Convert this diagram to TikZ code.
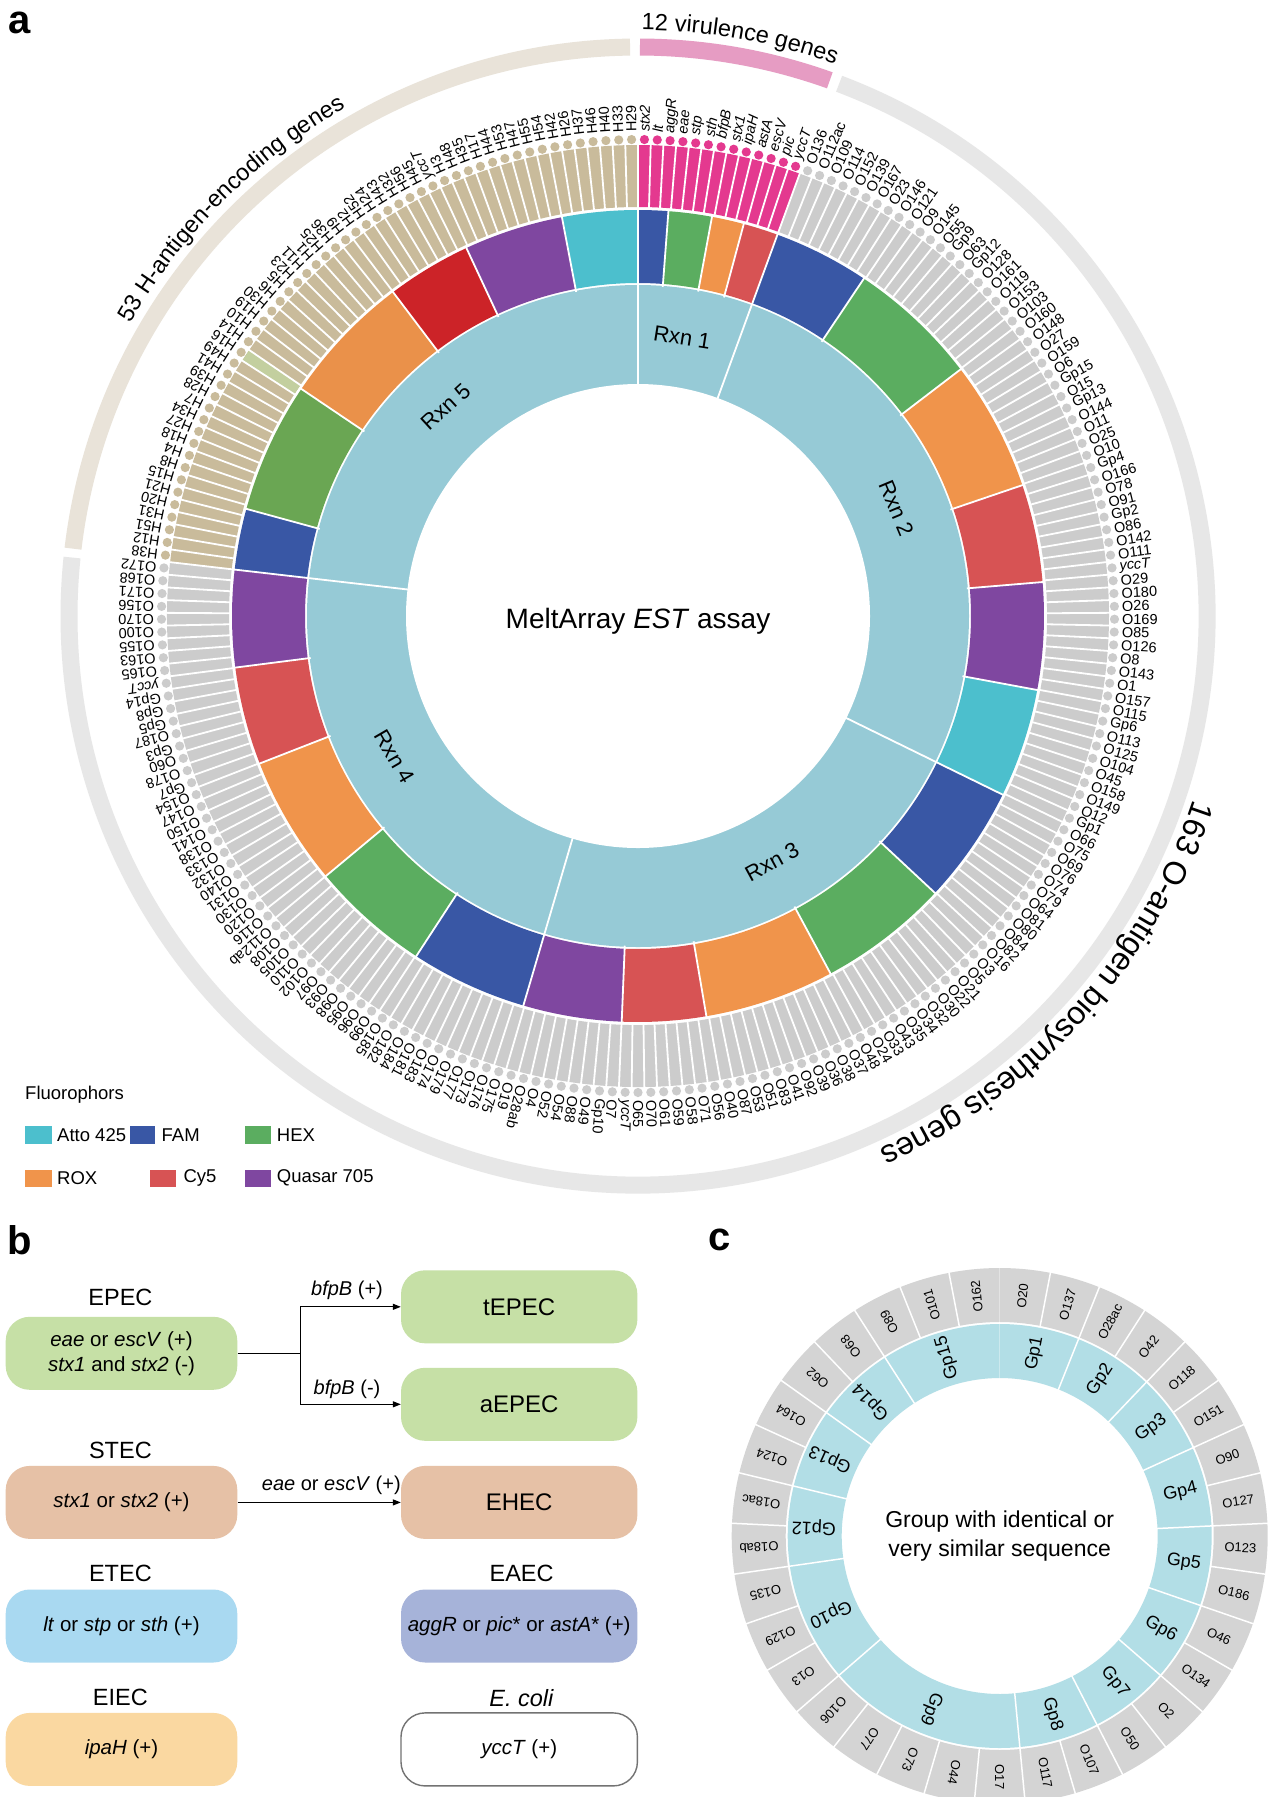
\documentclass[tikz,border=0pt]{standalone}
\usepackage{fontspec}
\setmainfont{Liberation Sans}
\usetikzlibrary{arrows.meta,decorations.text}
\definecolor{atto}{HTML}{4CBFCD}
\definecolor{fam}{HTML}{3957A5}
\definecolor{hex}{HTML}{5BAD60}
\definecolor{rox}{HTML}{F0944B}
\definecolor{cyv}{HTML}{D75354}
\definecolor{quasar}{HTML}{7F47A0}
\definecolor{hexb}{HTML}{6AA653}
\definecolor{roxb}{HTML}{EA914A}
\definecolor{cyvb}{HTML}{CC2328}
\definecolor{rxnblue}{HTML}{96CAD6}
\definecolor{barpink}{HTML}{E4398F}
\definecolor{bargray}{HTML}{CCCCCC}
\definecolor{barbeige}{HTML}{C9BB9B}
\definecolor{barlgreen}{HTML}{C3CF9F}
\definecolor{arcbeige}{HTML}{E9E3D9}
\definecolor{arcpink}{HTML}{E69CC3}
\definecolor{arcgray}{HTML}{E7E7E7}
\definecolor{epec}{HTML}{C6E0A6}
\definecolor{stec}{HTML}{E6C1A6}
\definecolor{etec}{HTML}{A9D9F1}
\definecolor{eaec}{HTML}{A6B3D9}
\definecolor{eiec}{HTML}{FAD8A1}
\definecolor{cblue}{HTML}{B2DEE6}
\definecolor{cgray}{HTML}{D4D4D4}
\newcommand{\ansec}[5]{\fill[#5] (#3:#1) arc[start angle=#3,end angle=#4,radius=#1] -- (#4:#2) arc[start angle=#4,end angle=#3,radius=#2] -- cycle;}
\newcommand{\arcfont}{\fontsize{23.5}{23.5}\selectfont}
\newcommand{\arcfontb}{\fontsize{32}{32}\selectfont}
\tikzset{
 glab/.style={anchor=west,inner sep=0pt,font=\fontsize{14.5}{14.5}\selectfont},
 clab/.style={inner sep=0pt,font=\fontsize{13}{13}\selectfont},
 gplab/.style={inner sep=0pt,font=\fontsize{18}{18}\selectfont},
 rxnlab/.style={inner sep=0pt,font=\fontsize{22}{22}\selectfont},
 legtext/.style={anchor=west,inner sep=0pt,font=\fontsize{18.5}{18.5}\selectfont},
 btitle/.style={inner sep=0pt,font=\fontsize{23.5}{23.5}\selectfont},
 bbox/.style={rounded corners=24pt,minimum width=232pt,minimum height=73pt,inner sep=0pt,align=center,font=\fontsize{20.5}{25}\selectfont},
 bigbox/.style={bbox,minimum width=236.4pt,font=\fontsize{24}{24}\selectfont},
 arrlab/.style={inner sep=0pt,font=\fontsize{20}{20}\selectfont},
 plab/.style={inner sep=0pt,font=\fontsize{40}{40}\selectfont\bfseries},
 arr/.style={-{Triangle[length=8pt,width=6pt]},line width=1.2pt},
 conn/.style={line width=1.2pt},
}
\begin{document}
\begin{tikzpicture}[x=1pt,y=1pt]
\useasboundingbox (0,0) rectangle (1269,-1797);
\fill[white] (0,0) rectangle (1269,-1797);
% ================= panel a =================
\begin{scope}[shift={(638,-616)}]
\pgfmathsetmacro\dd{360/233}
% light blue reaction ring
\fill[rxnblue] (0,0) circle[radius=331];
\fill[white] (0,0) circle[radius=232];
% fluorophore ring
\foreach \a/\b/\c in {90/85.7/fam,85.7/79.5/hex,79.5/74.9/rox,74.9/69.914/cyv,
 69.914/56.2/fam,56.2/37.4/hex,37.4/18.8/rox,18.8/4.8/cyv,4.8/-10.5/quasar,-10.5/-26.1/atto,
 -26.1/-43.0/fam,-43.0/-61.7/hex,-61.7/-80.3/rox,-80.3/-92.3/cyv,-92.3/-106.4/quasar,
 -106.4/-123.1/fam,-123.1/-140.2/hex,-140.2/-158.7/rox,-158.7/-172.7/cyv,-172.7/-186.567/quasar,
 173.433/164.7/fam,164.7/146.0/hexb,146.0/127.1/roxb,127.1/115.0/cyvb,115.0/100.8/quasar,100.8/90/atto}
 {\ansec{333}{406}{\a}{\b}{\c}}
\foreach \a in {85.7,79.5,74.9,56.2,37.4,18.8,4.8,-10.5,-43.0,-61.7,-80.3,-92.3,-123.1,-140.2,-158.7,-172.7,164.7,146.0,127.1,115.0,100.8}
 {\draw[white,line width=1.8pt] (\a:330) -- (\a:408);}
\foreach \a in {90,69.914,-26.1,-106.4,173.433}
 {\draw[white,line width=1.8pt] (\a:228) -- (\a:408);}
% reaction labels
\node[rxnlab,rotate=-9] (r1) at (81:282) {Rxn 1};
\node[rxnlab,rotate=-67.3] (r2) at (22.7:280) {Rxn 2};
\node[rxnlab,rotate=28.6] (r3) at (-61.4:280) {Rxn 3};
\node[rxnlab,rotate=-59.9] (r4) at (-149.9:281) {Rxn 4};
\node[rxnlab,rotate=42.5] (r5) at (132.5:284) {Rxn 5};
\node[font=\fontsize{28}{28}\selectfont,inner sep=0pt] (title) at (0,-5) {MeltArray \textit{EST} assay};
% bars
\ansec{409}{471}{90}{69.914}{barpink}
\ansec{409}{471}{69.914}{-186.567}{bargray}
\ansec{409}{471}{-186.567}{-270}{barbeige}
\pgfmathsetmacro\ga{90-196*\dd}\pgfmathsetmacro\gb{90-197*\dd}
\ansec{409}{471}{\ga}{\gb}{barlgreen}
\foreach \k in {0,...,232}
 {\pgfmathsetmacro\aa{90-\k*\dd}\draw[white,line width=1.8pt] (\aa:407) -- (\aa:473);}
% dots
\foreach \k in {0,...,232}{
 \pgfmathsetmacro\mm{90-(\k+0.5)*\dd}
 \ifnum\k<13 \def\cc{barpink}\else\ifnum\k<179 \def\cc{bargray}\else\def\cc{barbeige}\fi\fi
 \fill[\cc] (\mm:476.5) circle[radius=4.6];}
% gene labels
\foreach \t [count=\i from 0] in {\textit{stx2},\textit{lt},\textit{aggR},\textit{eae},\textit{stp},\textit{sth},\textit{bfpB},\textit{stx1},\textit{ipaH},\textit{astA},\textit{escV},\textit{pic},\textit{yccT}}
 {\pgfmathsetmacro\mm{90-(\i+0.5)*\dd}\node[glab,rotate=\mm] at (\mm:484) {\t};}
\foreach \t [count=\i from 13] in {O136,O112ac,O109,O114,O152,O139,O167,O23,O146,O121,
 O9,O145,O55,Gp9,O63,Gp12,O128,O161,O119,O153,
 O103,O160,O148,O27,O159,O6,Gp15,O15,Gp13,O144,
 O11,O25,O10,Gp4,O166,O78,O91,Gp2,O86,O142,
 O111,\textit{yccT},O29,O180,O26,O169,O85,O126,O8,O143,
 O1,O157,O115,Gp6,O113,O125,O104,O45,O158,O149,
 O12,Gp1,O66,O75,O69,O76,O74,O79,O64,O81,
 O80,O84,O82,O16,O3,O5,O21,O22,O30,O32,
 O34,O35,O43,O33,O24,O48,O37,O38,O36,O39,
 O92,O41,O83,O51,O53,O87,O40,O56,O71,O58,
 O59,O61,O70,O65,\textit{yccT},O7,Gp10,O49,O88,O54,
 O52,O4,O28ab,O19,O175,O176,O173,O177,O179,O174,
 O183,O181,O184,O182,O185,O99,O96,O95,O98,O93,
 O97,O102,O110,O105,O108,O112ab,O116,O120,O130,O131,
 O140,O132,O133,O138,O141,O150,O147,O154,Gp7,O178,
 O60,Gp3,O187,Gp5,Gp8,Gp14,\textit{yccT},O165,O163,O155,
 O100,O170,O156,O171,O168,O172}
 {\pgfmathsetmacro\mm{90-(\i+0.5)*\dd}\node[glab,rotate=\mm] at (\mm:484) {\t};}
\foreach \t [count=\i from 179] in {H38,H12,H51,H31,H20,H21,H15,H8,H4,H18,
 H27,H34,H7,H28,H39,H41,H49,H16,H14,H10,
 H19,H30,H6,H5,H23,H11,H1,H25,H36,H9,
 H2,H52,H24,H43,H32,H56,H45,\textit{yccT},H3,H48,
 H35,H17,H44,H53,H47,H55,H54,H42,H26,H37,
 H46,H40,H33,H29}
 {\pgfmathsetmacro\mm{90-(\i+0.5)*\dd}\node[glab,rotate=\mm] at (\mm:484) {\t};}
% outer arcs
\draw[arcbeige,line width=17pt] (173.2:569) arc[start angle=173.2,end angle=90.8,radius=569];
\draw[arcpink,line width=17pt] (89.8:569) arc[start angle=89.8,end angle=70.3,radius=569];
\draw[arcgray,line width=17pt] (69.3:569) arc[start angle=69.3,end angle=-185.9,radius=569];
\path[decorate,decoration={text along path,text align=center,text={|\arcfont|53 H-antigen-encoding genes}}]
 (165:586) arc[start angle=165,end angle=105,radius=586];
\path[decorate,decoration={text along path,text align=center,text={|\arcfont|12 virulence genes}}]
 (100:586) arc[start angle=100,end angle=60,radius=586];
\path[decorate,decoration={text along path,text align=center,text={|\arcfontb|163 O-antigen biosynthesis genes}}]
 (8:585) arc[start angle=8,end angle=-92,radius=585];
\end{scope}
% legend
\node[legtext] (legt) at (25,-1095) {Fluorophors};
\fill[atto] (25,-1126) rectangle (51.5,-1144);
\node[legtext] (l1) at (57,-1135) {Atto 425};
\fill[fam] (129.5,-1126) rectangle (155,-1144);
\node[legtext] (l2) at (161.5,-1135) {FAM};
\fill[hex] (244.5,-1126) rectangle (271,-1144);
\node[legtext] (l3) at (276.7,-1135) {HEX};
\fill[rox] (25,-1169.5) rectangle (51.5,-1187);
\node[legtext] (l4) at (57,-1178) {ROX};
\fill[cyv] (150,-1169.5) rectangle (175.5,-1187);
\node[legtext] (l5) at (183.4,-1178) {Cy5};
\fill[quasar] (244.5,-1169.5) rectangle (271,-1187);
\node[legtext] (l6) at (276.7,-1178) {Quasar 705};
% panel labels
\node[plab] (pa) at (19.5,-23) {a};
\node[plab] (pb) at (19.5,-1240) {b};
\node[plab] (pc) at (720,-1240) {c};
% ================= panel b =================
\node[btitle] (epect) at (120.4,-1297.7) {EPEC};
\node[bbox,fill=epec,minimum width=231.6pt] (epec) at (121.5,-1353.3) {\textit{eae} or \textit{escV} (+)\\\textit{stx1} and \textit{stx2} (-)};
\node[bigbox,fill=epec] (tepec) at (519.2,-1306.8) {tEPEC};
\node[bigbox,fill=epec] (aepec) at (519.2,-1404.3) {aEPEC};
\coordinate (j) at (300.4,-1353.3);
\coordinate (ju) at (300.4,-1306.8);
\coordinate (jd) at (300.4,-1404.3);
\draw[conn] (epec.east) -- (j);
\draw[conn] (ju) -- (jd);
\draw[arr] (ju) -- (tepec.west);
\draw[arr] (jd) -- (aepec.west);
\node[arrlab] (bp) at (347,-1290) {\textit{bfpB} (+)};
\node[arrlab] (bm) at (347,-1389.4) {\textit{bfpB} (-)};
\node[btitle] (stect) at (120.4,-1450) {STEC};
\node[bbox,fill=stec,minimum width=231.6pt] (stec) at (121.5,-1502.4) {\textit{stx1} or \textit{stx2} (+)};
\node[bigbox,fill=stec] (ehec) at (519.2,-1502.4) {EHEC};
\draw[arr] (stec.east) -- (ehec.west);
\node[arrlab] (ee) at (331.3,-1485.7) {\textit{eae} or \textit{escV} (+)};
\node[btitle] (etect) at (120.4,-1572.9) {ETEC};
\node[bbox,fill=etec,minimum width=231.6pt] (etec) at (121.5,-1626) {\textit{lt} or \textit{stp} or \textit{sth} (+)};
\node[btitle] (eaect) at (521.6,-1572.9) {EAEC};
\node[bbox,fill=eaec,minimum width=236.4pt] (eaec) at (519.2,-1626) {\textit{aggR} or \textit{pic}* or \textit{astA}* (+)};
\node[btitle] (eiect) at (120.4,-1697.8) {EIEC};
\node[bbox,fill=eiec,minimum width=231.6pt] (eiec) at (121.5,-1749.4) {\textit{ipaH} (+)};
\node[btitle] (ecolit) at (521.6,-1697.8) {\textit{E. coli}};
\node[bbox,fill=white,draw=black!55,line width=1.4pt,minimum width=236.4pt] (ecoli) at (519.2,-1749.4) {\textit{yccT} (+)};
% ================= panel c =================
\begin{scope}[shift={(999.7,-1536)}]
\pgfmathsetmacro\dc{360/33}
\foreach \t [count=\i from 0] in {O20,O137,O28ac,O42,O118,O151,O90,O127,O123,O186,O46,O134,O2,O50,O107,O117,O17,O44,O73,O77,O106,O13,O129,O135,O18ab,O18ac,O124,O164,O62,O68,O89,O101,O162}{
 \pgfmathsetmacro\aa{90-\i*\dc}\pgfmathsetmacro\bb{90-(\i+1)*\dc}\pgfmathsetmacro\mm{90-(\i+0.5)*\dc}
 \ansec{214}{268}{\aa}{\bb}{cgray}
 \draw[white,line width=1.5pt] (\aa:212) -- (\aa:270);
 \node[clab,rotate=\mm] at (\mm:241) {\t};}
\foreach \s/\n/\t in {0/2/Gp1,2/2/Gp2,4/2/Gp3,6/2/Gp4,8/2/Gp5,10/2/Gp6,12/2/Gp7,14/2/Gp8,16/5/Gp9,21/3/Gp10,24/2/Gp12,26/2/Gp13,28/2/Gp14,30/3/Gp15}{
 \pgfmathsetmacro\aa{90-\s*\dc}\pgfmathsetmacro\bb{90-(\s+\n)*\dc}\pgfmathsetmacro\mm{90-(\s+\n/2)*\dc}
 \ansec{158}{212}{\aa}{\bb}{cblue}
 \draw[white,line width=1.5pt] (\aa:156) -- (\aa:214);
 \node[gplab,rotate=\mm] at (\mm:186) {\t};}
\node[align=center,font=\fontsize{23}{29}\selectfont,inner sep=0pt] (ctext) at (0,0) {Group with identical or\\very similar sequence};
\end{scope}
\end{tikzpicture}
\end{document}
